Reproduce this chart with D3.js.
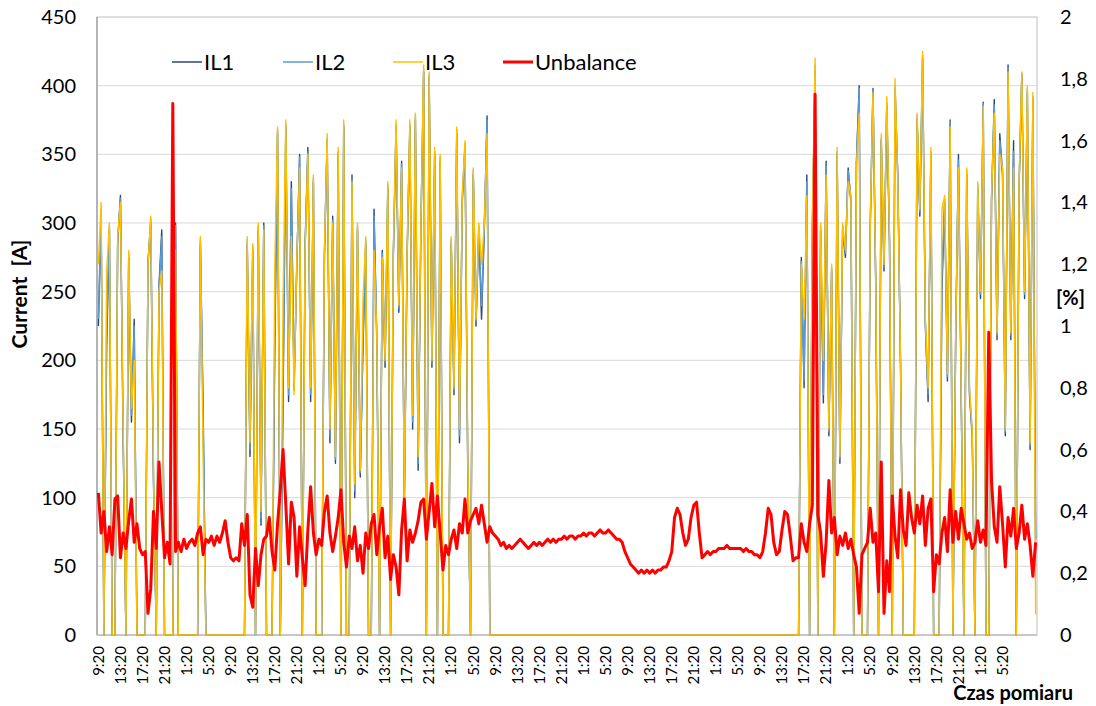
<!DOCTYPE html>
<html>
<head>
<meta charset="utf-8">
<script src="https://cdn.jsdelivr.net/npm/d3@7"></script>
<style>
  body { margin: 0; background: #fff; }
  text { font-family: Lato, "Open Sans", sans-serif; fill: #000; }
</style>
</head>
<body>
<svg id="chart" width="1096" height="706"></svg>
<script>
// Chart data: one sample every 30 minutes, starting at 9:20
const seriesNames = ["IL1", "IL2", "IL3", "Unbalance"];

const tickLabels = [
  "9:20", "13:20", "17:20", "21:20", "1:20", "5:20",
  "9:20", "13:20", "17:20", "21:20", "1:20", "5:20",
  "9:20", "13:20", "17:20", "21:20", "1:20", "5:20",
  "9:20", "13:20", "17:20", "21:20", "1:20", "5:20",
  "9:20", "13:20", "17:20", "21:20", "1:20", "5:20",
  "9:20", "13:20", "17:20", "21:20", "1:20", "5:20",
  "9:20", "13:20", "17:20", "21:20", "1:20", "5:20"
];

const leftTicks = [0, 50, 100, 150, 200, 250, 300, 350, 400, 450];
const rightTicks = [0, 0.2, 0.4, 0.6, 0.8, 1, 1.2, 1.4, 1.6, 1.8, 2];
const rightTickLabels = ["0", "0,2", "0,4", "0,6", "0,8", "1", "1,2", "1,4", "1,6", "1,8", "2"];

// current [A]
const il1 = [
  225,305,0,210,295,0,0,285,320,140,
  0,275,155,230,0,0,0,0,272,300,
  110,0,255,295,0,0,0,0,300,0,
  0,0,0,0,0,0,0,285,165,0,
  0,0,0,0,0,0,0,0,0,0,
  0,0,0,0,285,130,280,0,295,80,
  300,0,0,0,210,365,0,170,370,170,
  330,180,270,350,0,285,355,170,330,0,
  0,0,275,360,140,305,125,350,0,370,
  0,0,335,100,295,115,210,285,0,0,
  310,215,0,280,195,325,0,275,370,235,
  345,95,275,370,150,375,120,295,410,0,
  405,195,350,0,345,0,0,0,285,175,
  365,140,315,355,120,0,335,225,295,230,
  295,378,0,0,0,0,0,0,0,0,
  0,0,0,0,0,0,0,0,0,0,0,0,0,0,0,0,0,0,0,0,
  0,0,0,0,0,0,0,0,0,0,0,0,0,0,0,0,0,0,0,0,
  0,0,0,0,0,0,0,0,0,0,0,0,0,0,0,0,0,0,0,0,
  0,0,0,0,0,0,0,0,0,0,0,0,0,0,0,0,0,0,0,0,
  0,0,0,0,0,0,0,0,0,0,0,0,0,0,0,0,0,0,0,0,
  0,0,0,0,0,275,180,335,0,295,
  410,0,295,169,345,145,265,0,350,125,
  295,275,340,315,0,345,400,0,0,0,
  295,398,255,0,360,265,385,285,0,398,
  335,195,0,0,0,0,0,375,305,420,
  225,170,350,0,0,0,250,315,185,375,
  0,215,350,175,0,335,175,145,0,325,
  245,388,0,0,315,390,215,365,335,145,
  415,215,360,0,325,408,245,395,135,390,
  70
];

const il2 = [
  230,310,0,220,298,0,0,288,318,145,
  0,278,160,225,0,0,0,0,270,303,
  115,0,252,290,0,0,0,0,298,0,
  0,0,0,0,0,0,0,288,160,0,
  0,0,0,0,0,0,0,0,0,0,
  0,0,0,0,288,135,283,0,298,85,
  298,0,0,0,220,368,0,180,372,175,
  325,178,272,348,0,282,352,175,333,0,
  0,0,278,362,145,302,128,352,0,372,
  0,0,332,105,298,118,215,288,0,0,
  305,218,0,278,198,328,0,278,372,238,
  343,98,278,372,155,378,125,298,412,0,
  408,198,352,0,348,0,0,0,288,178,
  368,145,318,358,125,0,338,228,298,240,
  298,375,0,0,0,0,0,0,0,0,
  0,0,0,0,0,0,0,0,0,0,0,0,0,0,0,0,0,0,0,0,
  0,0,0,0,0,0,0,0,0,0,0,0,0,0,0,0,0,0,0,0,
  0,0,0,0,0,0,0,0,0,0,0,0,0,0,0,0,0,0,0,0,
  0,0,0,0,0,0,0,0,0,0,0,0,0,0,0,0,0,0,0,0,
  0,0,0,0,0,0,0,0,0,0,0,0,0,0,0,0,0,0,0,0,
  0,0,0,0,0,272,185,330,0,298,
  415,0,298,175,342,148,268,0,352,128,
  298,278,338,318,0,343,398,0,0,0,
  298,397,258,0,362,268,388,288,0,400,
  333,198,0,0,0,0,0,378,308,422,
  228,175,352,0,0,0,260,318,188,374,
  0,218,346,178,0,338,178,148,0,328,
  248,387,0,0,318,386,218,360,338,148,
  413,218,352,0,328,409,248,398,138,392,
  50
];

const il3 = [
  270,315,0,265,300,0,0,290,315,150,
  0,280,165,200,0,0,0,0,270,305,
  120,0,250,265,0,0,0,0,280,0,
  0,0,0,0,0,0,0,290,127,0,
  0,0,0,0,0,0,0,0,0,0,
  0,0,0,0,290,140,285,0,300,90,
  295,0,0,0,270,370,0,245,375,180,
  290,175,275,340,0,280,350,180,335,0,
  0,0,280,365,150,300,130,355,0,375,
  0,0,330,110,300,120,245,290,0,0,
  280,220,0,275,200,330,0,280,375,240,
  340,100,280,375,160,380,130,300,415,0,
  410,200,355,0,350,0,0,0,290,180,
  370,150,320,360,130,0,340,230,300,270,
  300,365,0,0,0,0,0,0,0,0,
  0,0,0,0,0,0,0,0,0,0,0,0,0,0,0,0,0,0,0,0,
  0,0,0,0,0,0,0,0,0,0,0,0,0,0,0,0,0,0,0,0,
  0,0,0,0,0,0,0,0,0,0,0,0,0,0,0,0,0,0,0,0,
  0,0,0,0,0,0,0,0,0,0,0,0,0,0,0,0,0,0,0,0,
  0,0,0,0,0,0,0,0,0,0,0,0,0,0,0,0,0,0,0,0,
  0,0,0,0,0,270,230,320,0,300,
  420,0,300,200,335,150,270,0,355,130,
  300,280,330,320,0,340,380,0,0,0,
  300,395,260,0,365,270,392,290,0,405,
  330,200,0,0,0,0,0,380,310,425,
  230,180,355,0,0,0,310,320,190,370,
  0,220,340,180,0,340,180,150,0,330,
  250,385,0,0,320,380,220,350,340,150,
  410,220,340,0,330,410,250,400,140,395,
  15
];

// unbalance [%]
const unbalance = [
  0.46,0.33,0.40,0.27,0.35,0.26,0.44,0.45,0.25,0.33,
  0.28,0.37,0.44,0.30,0.36,0.28,0.26,0.27,0.07,0.15,
  0.40,0.28,0.56,0.40,0.25,0.30,0.23,1.72,0.27,0.30,
  0.27,0.31,0.28,0.30,0.31,0.29,0.33,0.35,0.26,0.31,
  0.30,0.32,0.29,0.32,0.30,0.33,0.37,0.30,0.25,0.24,
  0.25,0.24,0.36,0.29,0.39,0.13,0.09,0.28,0.16,0.26,
  0.31,0.32,0.38,0.27,0.21,0.36,0.47,0.60,0.42,0.23,
  0.43,0.38,0.19,0.35,0.25,0.16,0.34,0.48,0.33,0.26,
  0.31,0.29,0.40,0.45,0.33,0.27,0.32,0.38,0.47,0.30,
  0.22,0.32,0.28,0.35,0.24,0.29,0.20,0.33,0.28,0.36,
  0.39,0.26,0.35,0.41,0.25,0.32,0.18,0.26,0.22,0.13,
  0.34,0.44,0.24,0.34,0.30,0.33,0.37,0.43,0.44,0.31,
  0.40,0.49,0.35,0.45,0.33,0.21,0.29,0.26,0.31,0.34,
  0.28,0.36,0.33,0.44,0.33,0.37,0.39,0.41,0.36,0.42,
  0.36,0.30,0.35,0.33,0.32,0.31,0.29,0.30,0.28,0.29,
  0.28,0.29,0.30,0.31,0.30,0.29,0.28,0.29,0.30,0.29,
  0.30,0.29,0.30,0.31,0.30,0.31,0.30,0.31,0.31,0.32,
  0.31,0.32,0.32,0.31,0.32,0.32,0.33,0.32,0.33,0.33,
  0.32,0.33,0.34,0.33,0.33,0.34,0.33,0.32,0.31,0.31,
  0.30,0.27,0.25,0.23,0.22,0.21,0.20,0.21,0.20,0.21,
  0.20,0.21,0.20,0.21,0.21,0.22,0.22,0.24,0.27,0.38,
  0.41,0.39,0.33,0.29,0.31,0.38,0.42,0.43,0.33,0.25,
  0.26,0.27,0.26,0.27,0.27,0.28,0.28,0.28,0.29,0.28,
  0.28,0.28,0.28,0.28,0.27,0.28,0.27,0.27,0.26,0.26,
  0.25,0.27,0.33,0.41,0.39,0.30,0.26,0.27,0.34,0.40,
  0.39,0.32,0.24,0.25,0.25,0.36,0.30,0.27,0.36,0.42,
  1.75,0.39,0.33,0.19,0.30,0.50,0.33,0.38,0.26,0.32,
  0.29,0.33,0.28,0.31,0.26,0.22,0.07,0.26,0.28,0.30,
  0.41,0.30,0.33,0.14,0.56,0.07,0.24,0.14,0.45,0.32,
  0.25,0.47,0.34,0.29,0.46,0.38,0.33,0.42,0.36,0.45,
  0.29,0.41,0.44,0.14,0.26,0.23,0.33,0.38,0.27,0.47,
  0.30,0.40,0.31,0.41,0.36,0.31,0.33,0.28,0.30,0.37,
  0.30,0.34,0.29,0.98,0.50,0.35,0.30,0.48,0.36,0.22,
  0.38,0.32,0.41,0.28,0.33,0.42,0.31,0.36,0.29,0.19,
  0.30
];

const colors = { IL1: "#2b4a73", IL2: "#5b9bd5", IL3: "#ffc000", Unbalance: "#ff0000" };

// Layout
const plot = { left: 97, right: 1037, top: 17, bottom: 635 };
const svg = d3.select("#chart");

svg.append("rect").attr("width", 1096).attr("height", 706).attr("fill", "#fff");

const x = d3.scalePoint()
    .domain(d3.range(il3.length))
    .range([plot.left, plot.right])
    .padding(0.5);
const yLeft = d3.scaleLinear().domain([0, 450]).range([plot.bottom, plot.top]);
const yRight = d3.scaleLinear().domain([0, 2]).range([plot.bottom, plot.top]);

// Gridlines
svg.append("g")
    .selectAll("line")
    .data(leftTicks.slice(1, -1))
    .join("line")
    .attr("x1", plot.left).attr("x2", plot.right)
    .attr("y1", d => yLeft(d)).attr("y2", d => yLeft(d))
    .attr("stroke", "#d9d9d9")
    .attr("stroke-width", 1);

// Plot border
svg.append("rect")
    .attr("x", plot.left).attr("y", plot.top)
    .attr("width", plot.right - plot.left)
    .attr("height", plot.bottom - plot.top)
    .attr("fill", "none")
    .attr("stroke", "#bfbfbf");

svg.append("line")
    .attr("x1", plot.left).attr("x2", plot.left)
    .attr("y1", plot.top).attr("y2", plot.bottom)
    .attr("stroke", "#a6a6a6").attr("stroke-width", 1.5);
svg.append("line")
    .attr("x1", plot.left).attr("x2", plot.right)
    .attr("y1", plot.bottom).attr("y2", plot.bottom)
    .attr("stroke", "#bfbfbf").attr("stroke-width", 1.5);

// Left axis labels
svg.append("g")
    .selectAll("text")
    .data(leftTicks)
    .join("text")
    .attr("x", 76)
    .attr("y", d => yLeft(d))
    .attr("dy", "0.35em")
    .attr("text-anchor", "end")
    .attr("font-size", 20)
    .text(d => d);

// Right axis labels
svg.append("g")
    .selectAll("text")
    .data(rightTicks)
    .join("text")
    .attr("x", 1060)
    .attr("y", d => yRight(d))
    .attr("dy", "0.35em")
    .attr("text-anchor", "start")
    .attr("font-size", 20)
    .text((d, i) => rightTickLabels[i]);

// X tick labels, every 8th sample (4 hours)
svg.append("g")
    .selectAll("text")
    .data(tickLabels)
    .join("text")
    .attr("transform", (d, i) => `translate(${x(i * 8)},646) rotate(-90)`)
    .attr("dy", "0.35em")
    .attr("text-anchor", "end")
    .attr("font-size", 15)
    .text(d => d);

// Axis titles
svg.append("text")
    .attr("transform", "translate(27,294) rotate(-90)")
    .attr("text-anchor", "middle")
    .attr("font-size", 21)
    .attr("font-weight", "bold")
    .attr("xml:space", "preserve")
    .text("Current  [A]");

svg.append("text")
    .attr("x", 1056).attr("y", 305)
    .attr("font-size", 20)
    .attr("font-weight", "bold")
    .text("[%]");

svg.append("text")
    .attr("x", 1073).attr("y", 700)
    .attr("text-anchor", "end")
    .attr("font-size", 20)
    .attr("font-weight", "bold")
    .text("Czas pomiaru");

// Lines
const lineLeft = d3.line().x((d, i) => x(i)).y(d => yLeft(d));
const lineRight = d3.line().x((d, i) => x(i)).y(d => yRight(d));

const series = [
  { name: "IL1", values: il1, line: lineLeft, width: 1.4 },
  { name: "IL2", values: il2, line: lineLeft, width: 1.4 },
  { name: "IL3", values: il3, line: lineLeft, width: 1.4 },
  { name: "Unbalance", values: unbalance, line: lineRight, width: 3 }
];

svg.append("g")
    .selectAll("path")
    .data(series)
    .join("path")
    .attr("d", s => s.line(s.values))
    .attr("fill", "none")
    .attr("stroke", s => colors[s.name])
    .attr("stroke-width", s => s.width)
    .attr("stroke-linejoin", "round");

// Legend
const legendX = [172, 283, 393, 503];
const legend = svg.append("g")
    .selectAll("g")
    .data(series)
    .join("g")
    .attr("transform", (s, i) => `translate(${legendX[i]},62)`);

legend.append("line")
    .attr("x1", 0).attr("x2", 30)
    .attr("stroke", s => colors[s.name])
    .attr("stroke-width", s => s.name === "Unbalance" ? 3 : 1.5);

legend.append("text")
    .attr("x", 32)
    .attr("dy", "0.35em")
    .attr("font-size", 22)
    .text(s => s.name);
</script>
</body>
</html>
